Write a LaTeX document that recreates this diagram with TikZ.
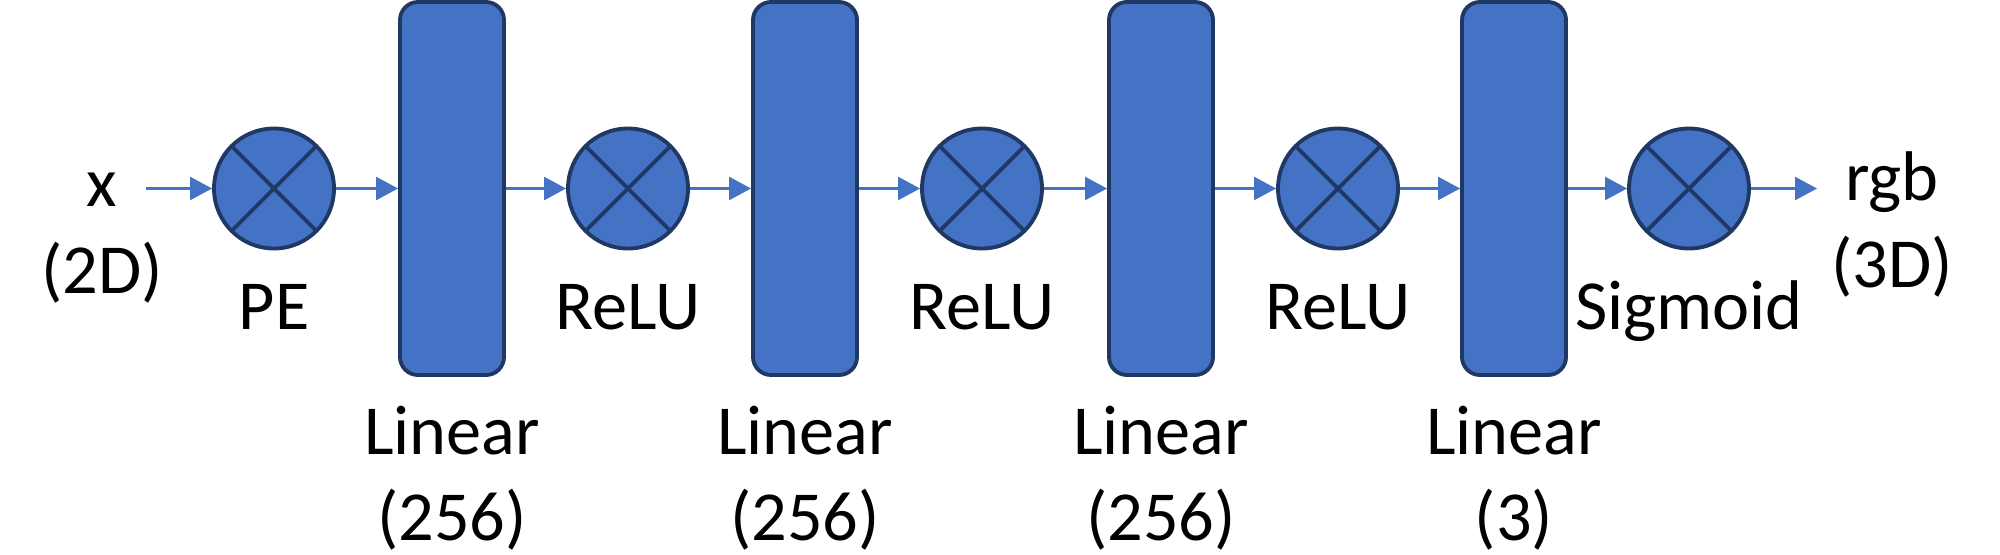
\documentclass[tikz,border=0pt]{standalone}
\usepackage{fontspec}
\setmainfont{Carlito}
\usetikzlibrary{arrows.meta}
\usetikzlibrary{positioning}
\definecolor{netblue}{HTML}{4472C4}
\definecolor{netdark}{HTML}{1F3864}

\begin{document}
\begin{tikzpicture}[>={Triangle[length=0.22cm,width=0.23cm]},line join=bevel,
  op/.style={circle,draw=netdark,line width=1.1pt,fill=netblue,minimum size=1.2cm,inner sep=0pt,
    path picture={\draw[netdark,line width=1.1pt]
      (path picture bounding box.north west) -- (path picture bounding box.south east)
      (path picture bounding box.north east) -- (path picture bounding box.south west);}},
  layer/.style={rectangle,rounded corners=0.18cm,draw=netdark,line width=1.1pt,fill=netblue,
    minimum width=1.04cm,minimum height=3.73cm,inner sep=0pt},
  lbl/.style={inner sep=0pt,align=center,font=\fontsize{20}{24.5}\selectfont},
  flow/.style={netblue,line width=0.7pt,->},
]
\useasboundingbox (0,0) rectangle (20,-5.54);
%%
\node (pe) at (2.74,-1.885) [op] {};
  \node (relu_1) at (6.28,-1.885) [op] {};
  \node (relu_2) at (9.82,-1.885) [op] {};
  \node (relu_3) at (13.38,-1.885) [op] {};
  \node (sig) at (16.89,-1.885) [op] {};
  \node (lin_1) at (4.52,-1.885) [layer] {};
  \node (lin_2) at (8.05,-1.885) [layer] {};
  \node (lin_3) at (11.61,-1.885) [layer] {};
  \node (lin_4) at (15.14,-1.885) [layer] {};
  \node (in) at (1.02,-2.93) [lbl,anchor=base] {x\\(2D)};
  \node (out) at (18.92,-2.87) [lbl,anchor=base] {rgb\\(3D)};
  \node (pe_lbl) [lbl,below=0.33cm of pe] {PE};
  \node (relu_1_lbl) [lbl,below=0.33cm of relu_1] {ReLU};
  \node (relu_2_lbl) [lbl,below=0.33cm of relu_2] {ReLU};
  \node (relu_3_lbl) [lbl,below=0.33cm of relu_3] {ReLU};
  \node (sig_lbl) [lbl,below=0.3cm of sig] {Sigmoid};
  \node (lin_1_lbl) [lbl,below=0.28cm of lin_1] {Linear\\(256)};
  \node (lin_2_lbl) [lbl,below=0.28cm of lin_2] {Linear\\(256)};
  \node (lin_3_lbl) [lbl,below=0.28cm of lin_3] {Linear\\(256)};
  \node (lin_4_lbl) [lbl,below=0.28cm of lin_4] {Linear\\(3)};
  \coordinate (in_end) at (1.46,-1.885);
  \coordinate (out_end) at (18.17,-1.885);
  \draw [flow] (in_end) -- (pe);
  \draw [flow] (pe) -- (lin_1);
  \draw [flow] (lin_1) -- (relu_1);
  \draw [flow] (relu_1) -- (lin_2);
  \draw [flow] (lin_2) -- (relu_2);
  \draw [flow] (relu_2) -- (lin_3);
  \draw [flow] (lin_3) -- (relu_3);
  \draw [flow] (relu_3) -- (lin_4);
  \draw [flow] (lin_4) -- (sig);
  \draw [flow] (sig) -- (out_end);
%
\end{tikzpicture}
\end{document}
